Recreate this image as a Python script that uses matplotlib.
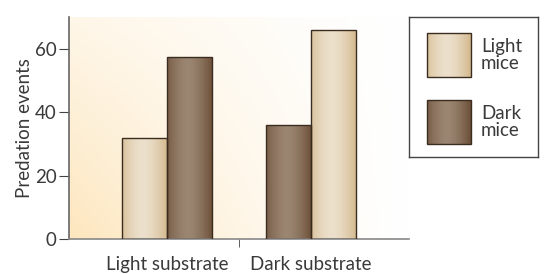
"""Predation events on light and dark substrates, bars shaded like cylinders."""

import numpy as np
import matplotlib
matplotlib.use('Agg')
import matplotlib.pyplot as plt
from matplotlib.patches import Rectangle
from matplotlib.colors import to_rgb

substrates = ['Light substrate', 'Dark substrate']
mice = ['Light\nmice', 'Dark\nmice']
light_mice = [32, 66]
dark_mice = [57.5, 36]

plt.rcParams['font.family'] = ['Lato', 'DejaVu Sans']
txt = '#3a3a3a'
fs = 13.5

# edge / centre colours of the shaded bars
shade = {
    'light': ('#d3b88c', '#ece0cc'),
    'dark': ('#6c4f37', '#9b8672'),
}


def cyl_image(kind):
    edge, centre = np.array(to_rgb(shade[kind][0])), np.array(to_rgb(shade[kind][1]))
    u = np.linspace(0, 1, 64)
    w = 1 - np.abs((u - 0.45) / 0.55) ** 1.6
    w = np.clip(w, 0, 1)
    return (edge[None, :] + (centre - edge)[None, :] * w[:, None])[None, :, :]


def shaded_rect(ax, x, y, w, h, kind, **kw):
    rect = Rectangle((x, y), w, h, facecolor='none', edgecolor='#3b2c20', lw=1.0, zorder=3, **kw)
    ax.add_patch(rect)
    im = ax.imshow(cyl_image(kind), extent=(x, x + w, y, y + h), aspect='auto',
                   zorder=2, interpolation='bilinear', **kw)
    im.set_clip_path(rect)
    return rect


fig = plt.figure(figsize=(5.46, 2.74), dpi=100)
ax = fig.add_axes([0.1264, 0.1277, 0.6227, 0.8102])

# warm background gradient
gx, gy = np.meshgrid(np.linspace(0, 1, 200), np.linspace(0, 1, 200))
wgt = np.clip((1 - gx) * (1 - 0.55 * gy), 0, 1) ** 1.3
warm = np.array(to_rgb('#fde6bd'))
bg = 1 - (1 - warm)[None, None, :] * wgt[:, :, None]
ax.imshow(bg, extent=(0, 1, 0, 1), transform=ax.transAxes, origin='lower',
          aspect='auto', zorder=0, interpolation='bilinear')

x = np.arange(len(substrates))
bw = 0.3125
for i in x:
    shaded_rect(ax, i - bw, 0, bw, light_mice[i] if i == 0 else dark_mice[i], 'light' if i == 0 else 'dark')
    shaded_rect(ax, i, 0, bw, dark_mice[i] if i == 0 else light_mice[i], 'dark' if i == 0 else 'light')

ax.set_xlim(-0.68, 1.68)
ax.set_ylim(0, 70)
ax.set_yticks([0, 20, 40, 60])
ax.set_xticks(x)
ax.set_xticklabels(substrates, fontsize=fs, color=txt)
ax.set_xticks([0.5], minor=True)
ax.tick_params(axis='x', which='major', length=0, pad=12)
ax.tick_params(axis='x', which='minor', length=6, color='#444', direction='out')
ax.tick_params(axis='y', length=7, color='#444', labelsize=fs, labelcolor=txt, pad=2)
ax.set_ylabel('Predation events', fontsize=fs, color=txt, labelpad=1)
for s in ['top', 'right']:
    ax.spines[s].set_visible(False)
ax.spines['left'].set_color('#666666')
ax.spines['bottom'].set_color('#888888')
ax.spines['left'].set_linewidth(1.2)
ax.spines['bottom'].set_linewidth(1.2)

# legend box
lg = fig.add_axes([0.749, 0.427, 0.236, 0.511])
lg.set_xlim(0, 1)
lg.set_ylim(0, 1)
lg.set_xticks([])
lg.set_yticks([])
for s in lg.spines.values():
    s.set_color('#444444')
    s.set_linewidth(1.0)
for y0, name, kind in [(0.571, mice[0], 'light'), (0.093, mice[1], 'dark')]:
    shaded_rect(lg, 0.14, y0, 0.34, 0.315, kind)
    lg.text(0.56, y0 + 0.1575, name, fontsize=fs, color=txt, va='center', ha='left', linespacing=0.95)

fig.savefig('out.png', dpi=100)
